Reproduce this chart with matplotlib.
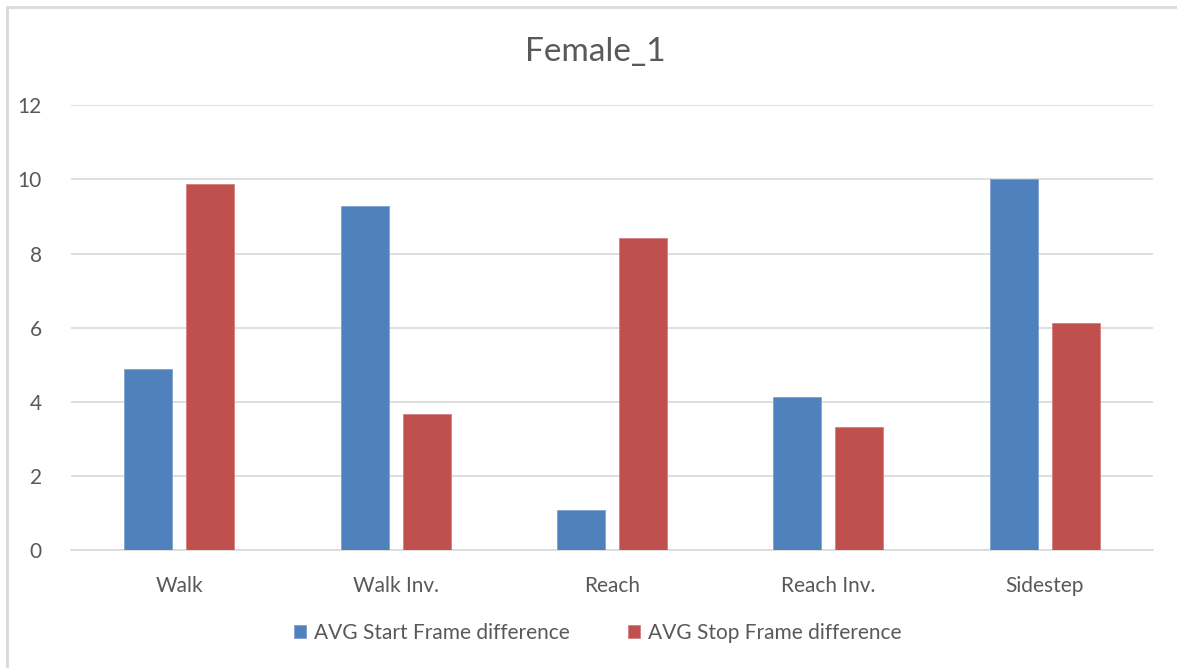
import matplotlib
matplotlib.use("Agg")
import matplotlib.pyplot as plt
from matplotlib.patches import Rectangle
import numpy as np

categories = ["Walk", "Walk Inv.", "Reach", "Reach Inv.", "Sidestep"]
start_diff = [4.88, 9.27, 1.08, 4.12, 10.0]
stop_diff = [9.87, 3.67, 8.43, 3.33, 6.13]
series_names = ["AVG Start Frame difference", "AVG Stop Frame difference"]
yticks = [0, 2, 4, 6, 8, 10, 12]
title = "Female_1"

plt.rcParams['font.family'] = ['Lato', 'DejaVu Sans']

W, H = 1177, 668
fig = plt.figure(figsize=(W / 100, H / 100), dpi=100)
fig.patch.set_facecolor("white")

ax = fig.add_axes([71 / W, 1 - 550 / H, (1153 - 71) / W, (550 - 105.3) / H])

x = np.arange(len(categories))
bw = 0.222
off = 0.1435
blue = "#4F81BD"
red = "#C0504D"
ax.bar(x - off, start_diff, bw, color=blue, edgecolor="#7FA2D0", linewidth=0.6, label=series_names[0], zorder=3)
ax.bar(x + off, stop_diff, bw, color=red, edgecolor="#D4807E", linewidth=0.6, label=series_names[1], zorder=3)

ax.set_xlim(-0.5, len(categories) - 0.5)
ax.set_ylim(0, 12)
ax.set_yticks(yticks)
ax.set_yticklabels([str(v) for v in yticks])
ax.set_xticks(x)
ax.set_xticklabels(categories)
ax.grid(axis="y", color="#d9d9d9", linewidth=1.2, zorder=0)
ax.set_axisbelow(True)
for s in ["top", "right", "left"]:
    ax.spines[s].set_visible(False)
ax.spines["bottom"].set_color("#d9d9d9")
ax.spines["bottom"].set_linewidth(1.2)
ax.tick_params(axis="both", length=0, colors="#595959", labelsize=15)
ax.tick_params(axis="y", pad=21)
ax.tick_params(axis="x", pad=19)

fig.text(595 / W, 1 - 52 / H, title, ha="center", va="center", fontsize=24, color="#595959")

fig.legend(loc="center", bbox_to_anchor=(598 / W, 1 - 633 / H), ncol=2, frameon=False,
           fontsize=15, labelcolor="#595959", handlelength=0.55, handleheight=0.55,
           handletextpad=0.4, columnspacing=2.8)

border = Rectangle((7 / W, -0.05), 1.1, 1.05 - 7 / H, transform=fig.transFigure,
                   fill=False, edgecolor="#d9d9d9", linewidth=2)
fig.patches.append(border)

fig.savefig("out.png", dpi=100)
